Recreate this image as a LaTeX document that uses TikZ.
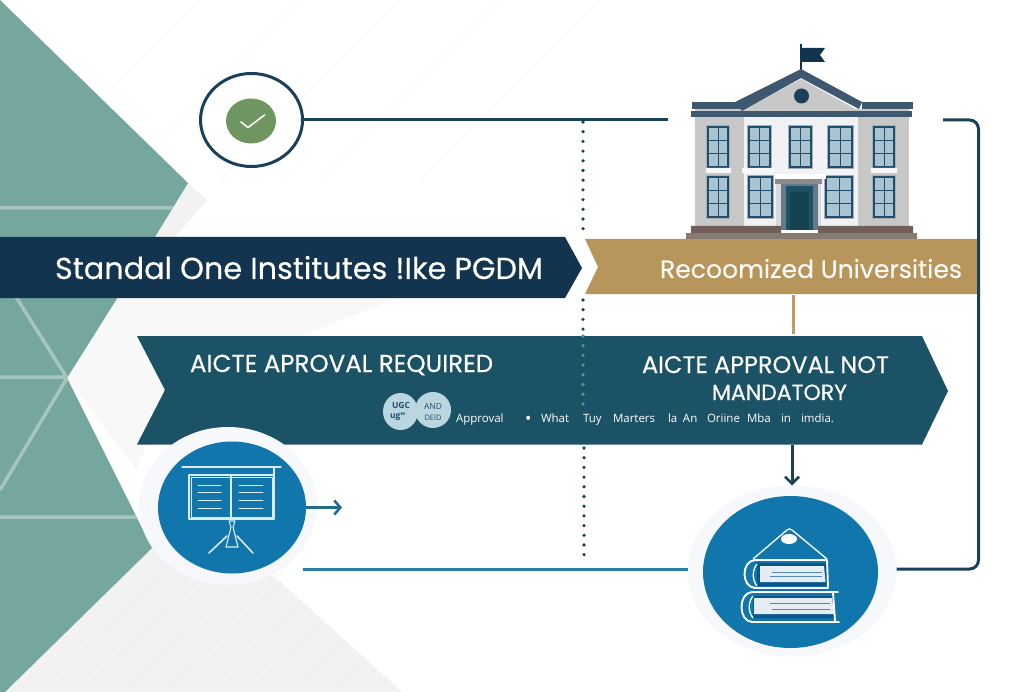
\documentclass[tikz,border=0pt]{standalone}
\usepackage{fontspec}
\usepackage{graphicx}
\setmainfont[FakeBold=0.3]{Poppins}
\newfontfamily\smallfont{Open Sans}
\usetikzlibrary{shapes.geometric,arrows.meta}
\definecolor{tealbg}{HTML}{75A79E}
\definecolor{tealln}{HTML}{A6C5BF}
\definecolor{navy}{HTML}{12344F}
\definecolor{navyln}{HTML}{1B4159}
\definecolor{gold}{HTML}{B8955A}
\definecolor{goldln}{HTML}{C29B5E}
\definecolor{midteal}{HTML}{1C5265}
\definecolor{dotteal}{HTML}{4D9AA0}
\definecolor{discblue}{HTML}{1176AC}
\definecolor{iconwhite}{HTML}{DCEAF3}
\definecolor{lineblue}{HTML}{2A7DA6}
\definecolor{halo}{HTML}{F7F8FB}
\definecolor{softgray}{HTML}{F3F2F2}
\definecolor{softer}{HTML}{F8F8F8}
\definecolor{wallgray}{HTML}{C9C8C8}
\definecolor{wallwhite}{HTML}{F0F2F5}
\definecolor{roofblue}{HTML}{3E5870}
\definecolor{winblue}{HTML}{1F4F6E}
\definecolor{glass}{HTML}{A9C4D0}
\definecolor{pagec}{HTML}{E3EDF3}
\definecolor{bookdark}{HTML}{0B5588}
\definecolor{okgreen}{HTML}{6F9560}
\definecolor{stepa}{HTML}{705F58}
\definecolor{stepb}{HTML}{857B72}
\definecolor{badgec}{HTML}{BAD6E0}
\tikzset{
  disc/.style={ellipse,inner sep=0pt,outer sep=0pt,draw=none},
  lbl/.style={inner sep=0pt,outer sep=0pt,text=white,anchor=base west},
  dotsline/.style={line width=3.6pt,line cap=round,dash pattern=on 0pt off 9.7pt},
  iconln/.style={draw=iconwhite,line width=1.1pt,line cap=round,line join=round},
  window/.style={draw=winblue,line width=1.4pt,fill=glass},
  conn/.style={line width=3pt},
  tiparrow/.style={-{Straight Barb[length=7pt,width=14pt,line width=2.6pt]}},
  faint/.style={draw=#1,line width=.6pt},
  badge/.style={ellipse,inner sep=0pt,fill=badgec},
  badgetxt/.style={inner sep=0pt,text=winblue,font=\smallfont\bfseries\fontsize{8.5}{9}\selectfont}
}
\newcommand{\fitw}[2]{\resizebox{#1pt}{!}{#2}}
\newcommand{\win}[4]{%
  \fill[black!32] (#1-2,#2-2) rectangle (#3+2,#4+2);
  \draw[window] (#1,#2) rectangle (#3,#4);
  \draw[draw=winblue,line width=1pt] ({(#1+#3)/2},#2) -- ({(#1+#3)/2},#4)
     (#1,{#2+(#4-#2)/3}) -- (#3,{#2+(#4-#2)/3}) (#1,{#2+2*(#4-#2)/3}) -- (#3,{#2+2*(#4-#2)/3});}
\begin{document}
\begin{tikzpicture}[x=1pt,y=-1pt]
\useasboundingbox (0,0) rectangle (1024,692);
\clip (0,0) rectangle (1024,692);
\fill[white] (0,0) rectangle (1024,692);
% faint ruled background
\foreach \d in {200,300,400,500,600}
  \draw[faint=black!3] (\d,0) -- ({\d-180},180);
% soft grey facets
\fill[softgray] (188,183) -- (207,200) -- (175,237) -- (155,237) -- cycle;
\fill[softer] (118,297) -- (67,378) -- (137,470) -- (165,390) -- (137,336) -- (300,336) -- (400,297) -- cycle;
\fill[softgray] (152,548) -- (5,692) -- (402,692) -- (275,577) -- cycle;
\begin{scope}
  \clip (152,548) -- (5,692) -- (402,692) -- (275,577) -- cycle;
  \foreach \d in {180,222,...,640}
    \draw[faint=black!7] (\d,520) -- ({\d-180},688);
\end{scope}
% teal field
\fill[tealbg] (0,0) -- (188,183) -- (155,237) -- (118,297) -- (67,378) -- (152,548) -- (5,692) -- (0,692) -- cycle;
\begin{scope}
  \clip (0,0) -- (188,183) -- (155,237) -- (118,297) -- (67,378) -- (152,548) -- (5,692) -- (0,692) -- cycle;
  \draw[tealln,line width=3.5pt] (0,208) -- (200,208) (0,377) -- (70,377) (0,517) -- (160,517)
     (16,297) -- (67,378) -- (0,490);
\end{scope}
% banners
\fill[navy] (0,237) -- (565,237) -- (582,268) -- (565,298) -- (0,298) -- cycle;
\fill[gold] (585,239) -- (977,239) -- (977,294) -- (585,294) -- (598,267) -- cycle;
\fill[midteal] (137,336) -- (922,336) -- (948,391) -- (922,444.5) -- (137,444.5) -- (165,390) -- cycle;
% named connector ends
\coordinate (schoolW) at (668,120);
\coordinate (schoolE) at (943,120);
\coordinate (goldbase) at (793,295);
\coordinate (midtop) at (793,334);
\coordinate (midbase) at (792,445);
\coordinate (dA) at (583,122);
\coordinate (dB) at (583,233);
\coordinate (dC) at (583,300);
\coordinate (dD) at (583,336);
\coordinate (dE) at (583,406);
\coordinate (dF) at (584,448);
\coordinate (dG) at (584,562);
\coordinate (pointerL) at (342,507.5);
\coordinate (loweredge) at (303,569);
% dotted divider
\draw[dotsline,navyln] (dA) -- (dB);
\draw[dotsline,navyln] (dC) -- (dD);
\draw[dotsline,dotteal] (dD) -- (dE);
\draw[dotsline,navyln] (dF) -- (dG);
% discs
\node[disc,draw=navyln,line width=3pt,fill=white,minimum width=102pt,minimum height=93pt] (check) at (251.5,120) {};
\node[disc,fill=halo,minimum width=178pt,minimum height=158pt] (haloL) at (228,506) {};
\node[disc,fill=discblue,minimum width=148pt,minimum height=132pt] (discL) at (232,507.5) {};
\node[disc,fill=halo,minimum width=209pt,minimum height=171pt] (haloR) at (792,571) {};
\node[disc,fill=discblue,minimum width=175pt,minimum height=152pt] (discR) at (790.5,572) {};
\node[disc,fill=okgreen,minimum width=50pt,minimum height=45pt] (ok) at (251,121) {};
\draw[white,line width=1.6pt,line cap=round,line join=round] (241,122) -- (248,127.5) -- (264.5,115);
% connectors
\draw[conn,navyln] (check.east) -- (schoolW);
\draw[conn,navyln,rounded corners=9pt] (schoolE) -- (978.5,120) -- (978.5,569) -- (haloR.east |- loweredge);
\draw[conn,lineblue] (loweredge) -- (haloR.west |- loweredge);
\draw[conn,goldln] (goldbase) -- (midtop);
\draw[conn,navyln,tiparrow] (midbase) -- (haloR.north);
\draw[line width=2.6pt,color=lineblue!85!black,-{Straight Barb[length=6pt,width=14pt,line width=2.6pt]}] (discL.east) -- (pointerL);
% presentation board
\draw[iconln] (182,467) -- (281,467);
\draw[iconln] (189,475) rectangle (274,519);
\draw[iconln,line width=.7pt] (191,477) rectangle (272,517);
\draw[iconln] (231,475) -- (231,519);
\foreach \y in {485,492,500,508} {
  \draw[iconln,line width=.9pt] (198,\y) -- (221,\y);
  \draw[iconln,line width=.9pt] (239,\y) -- (263,\y);
}
\draw[iconln] (274,467) -- (274,475);
\draw[iconln,fill=discblue] (229,521) -- (235,521) -- (233,527) -- (238,547) -- (226,547) -- (231,527) -- cycle;
\draw[iconln,line width=1.6pt] (227,536) -- (209,553) (237,536) -- (253,553);
% book stack
\draw[white,line width=1.3pt,line join=round] (753,559) -- (787,530) .. controls (789,528.5) and (790,528.5) .. (792,530) -- (827,559);
\fill[white] (789,539) ellipse (8pt and 5pt);
\fill[bookdark] (757,563) -- (826,563) -- (828,586) -- (757,586) -- cycle;
\fill[pagec] (760,566) -- (824,566) -- (825.5,582) -- (760,582) -- cycle;
\draw[bookdark!70,line width=.7pt] (772,572) -- (822,572) (770,576) -- (822,576);
\draw[white,line width=1.9pt,line cap=round] (827,560) -- (755,560) .. controls (741,561) and (741,587) .. (755,588) -- (828,588) (827,560) -- (828,588);
\draw[white,line width=1.3pt] (757,564) .. controls (752,570) and (752,580) .. (757,586);
\fill[bookdark] (753,596) -- (833,596) -- (835,618) -- (753,618) -- cycle;
\fill[pagec] (754,598) -- (832,598) -- (834,614) -- (754,614) -- cycle;
\draw[bookdark!70,line width=.7pt] (770,603) -- (830,603) (772,609) -- (830,609);
\draw[white,line width=1.9pt,line cap=round] (838,592) -- (752,592) .. controls (738,593) and (738,621) .. (752,622) -- (839,622) (833,593) -- (835,621);
\draw[white,line width=1.3pt] (753,596) .. controls (748,602) and (748,612) .. (753,618);
% building
\draw[line width=2pt,color=navy] (801,44) -- (801,70);
\fill[navy] (802,48) -- (825,48) -- (820,55) -- (825,62) -- (802,62) -- cycle;
\fill[wallgray] (695,109) rectangle (909,227);
\fill[wallgray] (742,111) -- (801,79) -- (859,111) -- cycle;
\fill[roofblue] (735,102) -- (801,69) -- (862,102) -- (859,109) -- (801,78) -- (742,111) -- cycle;
\fill[navyln] (801.5,96) circle (7.5pt);
\fill[roofblue] (692,102) rectangle (742,109);
\fill[roofblue] (862,102) rectangle (913,109);
\fill[roofblue] (691,111) rectangle (912,117);
\fill[wallwhite] (744,117) rectangle (858,227);
\win{708}{127}{728}{167}
\win{749}{127}{770}{167}
\win{790}{127}{811}{167}
\win{829}{127}{852}{167}
\win{874}{127}{894}{167}
\win{708}{177}{728}{217}
\win{749}{177}{772}{217}
\win{826}{177}{852}{217}
\win{874}{177}{894}{217}
\fill[black!3] (706,168) rectangle (731,173) (742,168) rectangle (775,173) (871,168) rectangle (897,173);
\fill[white] (775,174) rectangle (826,179);
\fill[black!45] (775,179) rectangle (822,184);
\fill[black!15] (776,184) rectangle (782,226);
\fill[black!15] (816,184) rectangle (821,226);
\fill[roofblue!80] (781,184) rectangle (818,230);
\fill[midteal] (786,186) rectangle (813,230);
\fill[midteal!80!black] (790,192) rectangle (809,230);
\fill[stepa] (691,226) rectangle (781,233) (818,226) rectangle (913,233);
\fill[stepb] (686,233) rectangle (917,239);
% texts
\node[lbl] (t1) at (55,279) {\fitw{488}{\fontsize{27}{30}\selectfont Standal One Institutes !Ike PGDM}};
\node[lbl,text=white!95!gold] (t2) at (660,278) {\fitw{302}{\fontsize{24}{28}\selectfont Recoomized Universities}};
\node[lbl] (t3) at (190,372) {\fitw{303}{\fontsize{20}{24}\selectfont AICTE APROVAL REQUIRED}};
\node[lbl] (t4) at (642,373) {\fitw{247}{\fontsize{20}{24}\selectfont AICTE APPROVAL NOT}};
\node[lbl] (t5) at (712,400) {\fitw{135}{\fontsize{20}{24}\selectfont MANDATORY}};
\node[lbl] (t6) at (456,422) {\smallfont\fontsize{11.5}{13}\selectfont
  \makebox[69pt][l]{Approval}\makebox[16pt][l]{\raisebox{-2.5pt}{\fontsize{17}{13}\selectfont •}}\makebox[42pt][l]{What}\makebox[30pt][l]{Tuy}\makebox[55pt][l]{Marters}\makebox[15pt][l]{la}\makebox[24pt][l]{An}\makebox[40pt][l]{Oriine}\makebox[34pt][l]{Mba}\makebox[20pt][l]{in}imdia.};
% badges
\node[badge,minimum width=35pt,minimum height=37pt] (b1) at (400.5,411.5) {};
\node[badge,minimum width=36pt,minimum height=36pt] (b2) at (433,410) {};
\node[badgetxt] (b1a) at (401,405.5) {UGC};
\node[badgetxt] (b1b) at (398,417) {ug\textsuperscript{\fontsize{4}{4}\selectfont EK}};
\node[badgetxt,font=\smallfont\fontsize{8.5}{9}\selectfont] (b2a) at (433,406) {AND};
\node[badgetxt,font=\smallfont\fontsize{7.5}{8}\selectfont] (b2b) at (433,417.5) {DElD};
\end{tikzpicture}
\end{document}
